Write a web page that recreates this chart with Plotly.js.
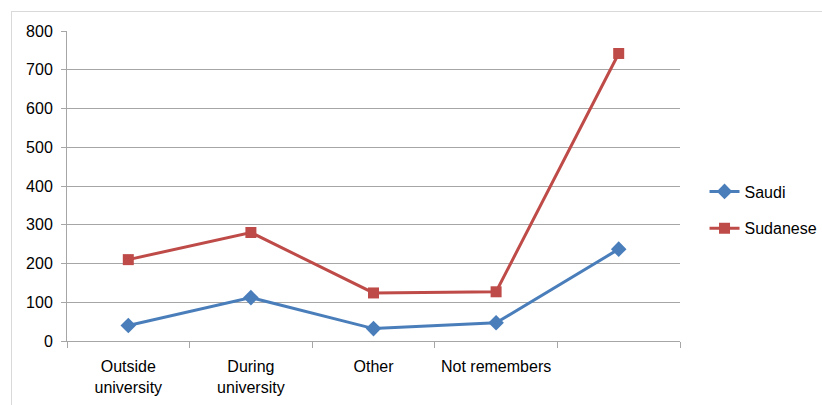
<!DOCTYPE html>
<html>
<head>
<meta charset="utf-8">
<script src="https://cdn.plot.ly/plotly-3.0.1.min.js"></script>
<style>
html,body{margin:0;padding:0;background:#fff;}
#frame{position:absolute;left:11px;top:11px;width:900px;height:500px;border:1px solid #d9d9d9;box-sizing:border-box;}
#chart{position:absolute;left:0;top:0;width:822px;height:405px;}
</style>
</head>
<body>
<div id="frame"></div>
<div id="chart"></div>
<script>
var categories = ["Outside<br>university", "During<br>university", "Other", "Not remembers", " "];
var saudi = [40, 112, 32, 47, 237];
var sudanese = [210, 280, 124, 127, 742];
var yTicks = [0, 100, 200, 300, 400, 500, 600, 700, 800];

var traces = [
  {x: categories, y: saudi, name: "Saudi", type: "scatter", mode: "lines+markers",
   legendgroup: "a",
   line: {color: "#4A7EBB", width: 3}, marker: {symbol: "diamond", size: 12, color: "#4A7EBB"}},
  {x: categories, y: sudanese, name: "Sudanese", type: "scatter", mode: "lines+markers",
   legendgroup: "b",
   line: {color: "#BE4B48", width: 3}, marker: {symbol: "square", size: 11, color: "#BE4B48"}}
];

var layout = {
  width: 822, height: 405,
  margin: {l: 67, r: 142, t: 31, b: 64, autoexpand: false},
  paper_bgcolor: "rgba(0,0,0,0)",
  plot_bgcolor: "rgba(0,0,0,0)",
  font: {family: "Liberation Sans, Arial, sans-serif", size: 16, color: "#000"},
  showlegend: true,
  legend: {x: 1.04, xanchor: "left", y: 0.4226, yanchor: "middle",
           traceorder: "grouped", tracegroupgap: 13, itemwidth: 30,
           font: {size: 16}},
  xaxis: {
    type: "category",
    tickson: "boundaries",
    ticks: "outside", ticklen: 6, tickcolor: "#a6a6a6",
    showgrid: false,
    showline: true, linecolor: "#a6a6a6", linewidth: 1,
    range: [-0.5, 4.5],
    tickfont: {size: 16},
    ticklabelstandoff: 11,
    automargin: false,
    fixedrange: true
  },
  yaxis: {
    range: [0, 800],
    tickvals: yTicks,
    ticks: "outside", ticklen: 5, tickcolor: "#a6a6a6",
    showgrid: true, gridcolor: "#a6a6a6", gridwidth: 1,
    showline: true, linecolor: "#a6a6a6", linewidth: 1,
    zeroline: false,
    tickfont: {size: 16},
    ticklabelstandoff: 5,
    automargin: false,
    fixedrange: true
  }
};

Plotly.newPlot("chart", traces, layout, {staticPlot: true});
</script>
</body>
</html>
